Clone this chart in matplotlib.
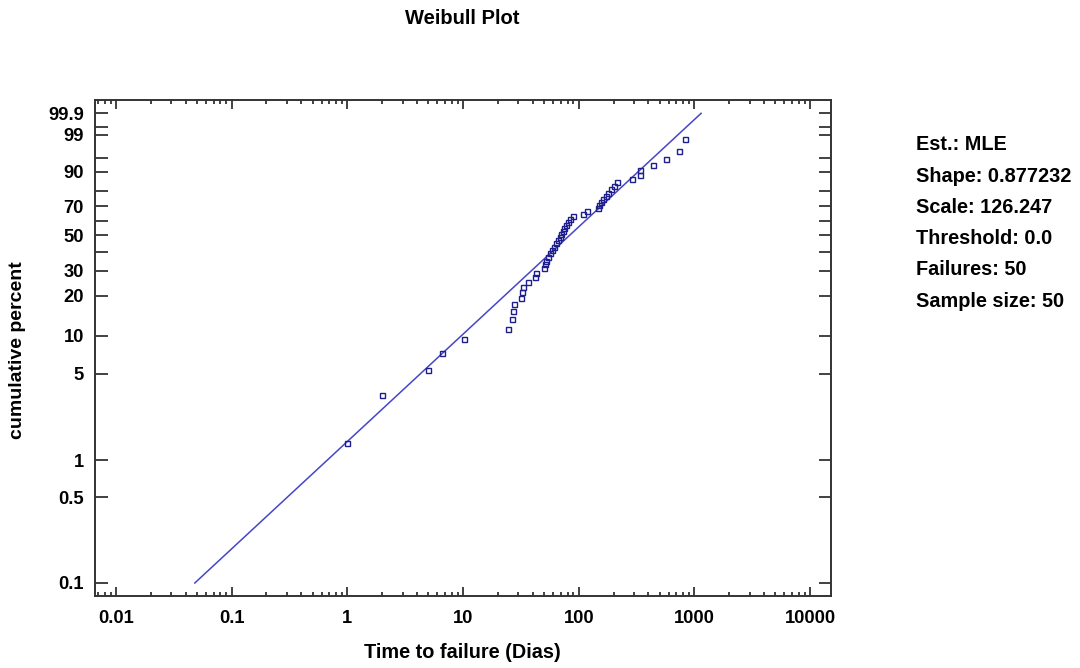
import numpy as np
import matplotlib
matplotlib.use('Agg')
import matplotlib.pyplot as plt
from matplotlib.ticker import FixedLocator, NullFormatter, LogLocator

plt.rcParams['font.family'] = ['Liberation Sans', 'DejaVu Sans']
plt.rcParams['font.weight'] = 'bold'

# failure times (Dias), sorted
failure_times = [1.0, 2.0, 5.0, 6.6, 10.2, 24.5, 26.5, 27.0, 27.6, 31.7,
                 32.4, 33.0, 36.5, 41.9, 42.8, 50.2, 51.2, 52.2, 54.3, 56.5,
                 58.8, 61.2, 63.7, 66.2, 68.9, 70.3, 73.2, 74.6, 77.6, 80.8,
                 84.1, 89.3, 109, 118, 147, 150, 156, 162, 172, 179,
                 190, 202, 214, 289, 339, 342, 439, 569, 736, 829]

# fitted Weibull (MLE)
shape = 0.877232
scale = 126.247
threshold = 0.0

y_labeled = [0.1, 0.5, 1, 5, 10, 20, 30, 50, 70, 90, 99, 99.9]
y_unlabeled = [40, 60, 80, 95, 99.5]
x_ticks = [0.01, 0.1, 1, 10, 100, 1000, 10000]
x_ticklabels = ['0.01', '0.1', '1', '10', '100', '1000', '10000']

stats_lines = ['Est.: MLE', 'Shape: 0.877232', 'Scale: 126.247',
               'Threshold: 0.0', 'Failures: 50', 'Sample size: 50']

line_pcts = [0.1, 99.9]


def fwd(p):
    p = np.clip(np.asarray(p, dtype=float), 1e-9, 100 - 1e-9)
    return np.log(-np.log(1 - p / 100.0))


def inv(w):
    return 100.0 * (1 - np.exp(-np.exp(np.asarray(w, dtype=float))))


n = len(failure_times)
ranks = np.arange(1, n + 1)
cum_pct = (ranks - 0.3) / (n + 0.4) * 100  # median ranks

lp = np.array(line_pcts)
line_x = scale * (-np.log(1 - lp / 100.0)) ** (1 / shape) + threshold

fig = plt.figure(figsize=(10.8, 6.68), dpi=100)
ax = fig.add_axes([95 / 1080, 1 - 596 / 668, (830.7 - 95) / 1080, (596 - 100) / 668])

ax.set_xscale('log')
ax.set_yscale('function', functions=(fwd, inv))

ax.plot(line_x, lp, color='#4646c8', lw=1.1, zorder=2)
ax.plot(failure_times, cum_pct, ls='none', marker='s', ms=3.6, mfc='none',
        mec='#1e1e8c', mew=1.0, zorder=3)

ax.set_xlim(0.00659, 15070)
ax.set_ylim(0.0783, 99.986)

ax.xaxis.set_major_locator(FixedLocator(x_ticks))
ax.set_xticklabels(x_ticklabels)
ax.xaxis.set_minor_locator(LogLocator(base=10, subs=np.arange(2, 10)))
ax.xaxis.set_minor_formatter(NullFormatter())

ax.yaxis.set_major_locator(FixedLocator(y_labeled))
ax.set_yticklabels([str(v) for v in y_labeled])
ax.yaxis.set_minor_locator(FixedLocator(y_unlabeled))
ax.yaxis.set_minor_formatter(NullFormatter())

ax.tick_params(axis='both', which='both', direction='in', top=True, right=True,
               width=1.3, color='#333333', labelsize=13.2)
ax.tick_params(axis='x', which='major', length=6.5, pad=10)
ax.tick_params(axis='x', which='minor', length=3)
ax.tick_params(axis='y', which='both', length=9, pad=8)

for s in ax.spines.values():
    s.set_linewidth(1.4)
    s.set_color('#333333')

# axis titles placed directly
fig.text(462.5 / 1080, 1 - 652 / 668, 'Time to failure (Dias)', ha='center',
         va='center', fontsize=14.3, fontweight='bold')
fig.text(18 / 1080, 1 - 350 / 668, 'cumulative percent', ha='center',
         va='center', rotation=90, fontsize=14, fontweight='bold')

fig.text(462.5 / 1080, 1 - 18 / 668, 'Weibull Plot', ha='center', va='center',
         fontsize=14.5, fontweight='bold')

for i, t in enumerate(stats_lines):
    fig.text(916 / 1080, 1 - (145 + i * 31.2) / 668, t, ha='left', va='center',
             fontsize=14.3, fontweight='bold')

fig.savefig('out.png', dpi=100, facecolor='white')
